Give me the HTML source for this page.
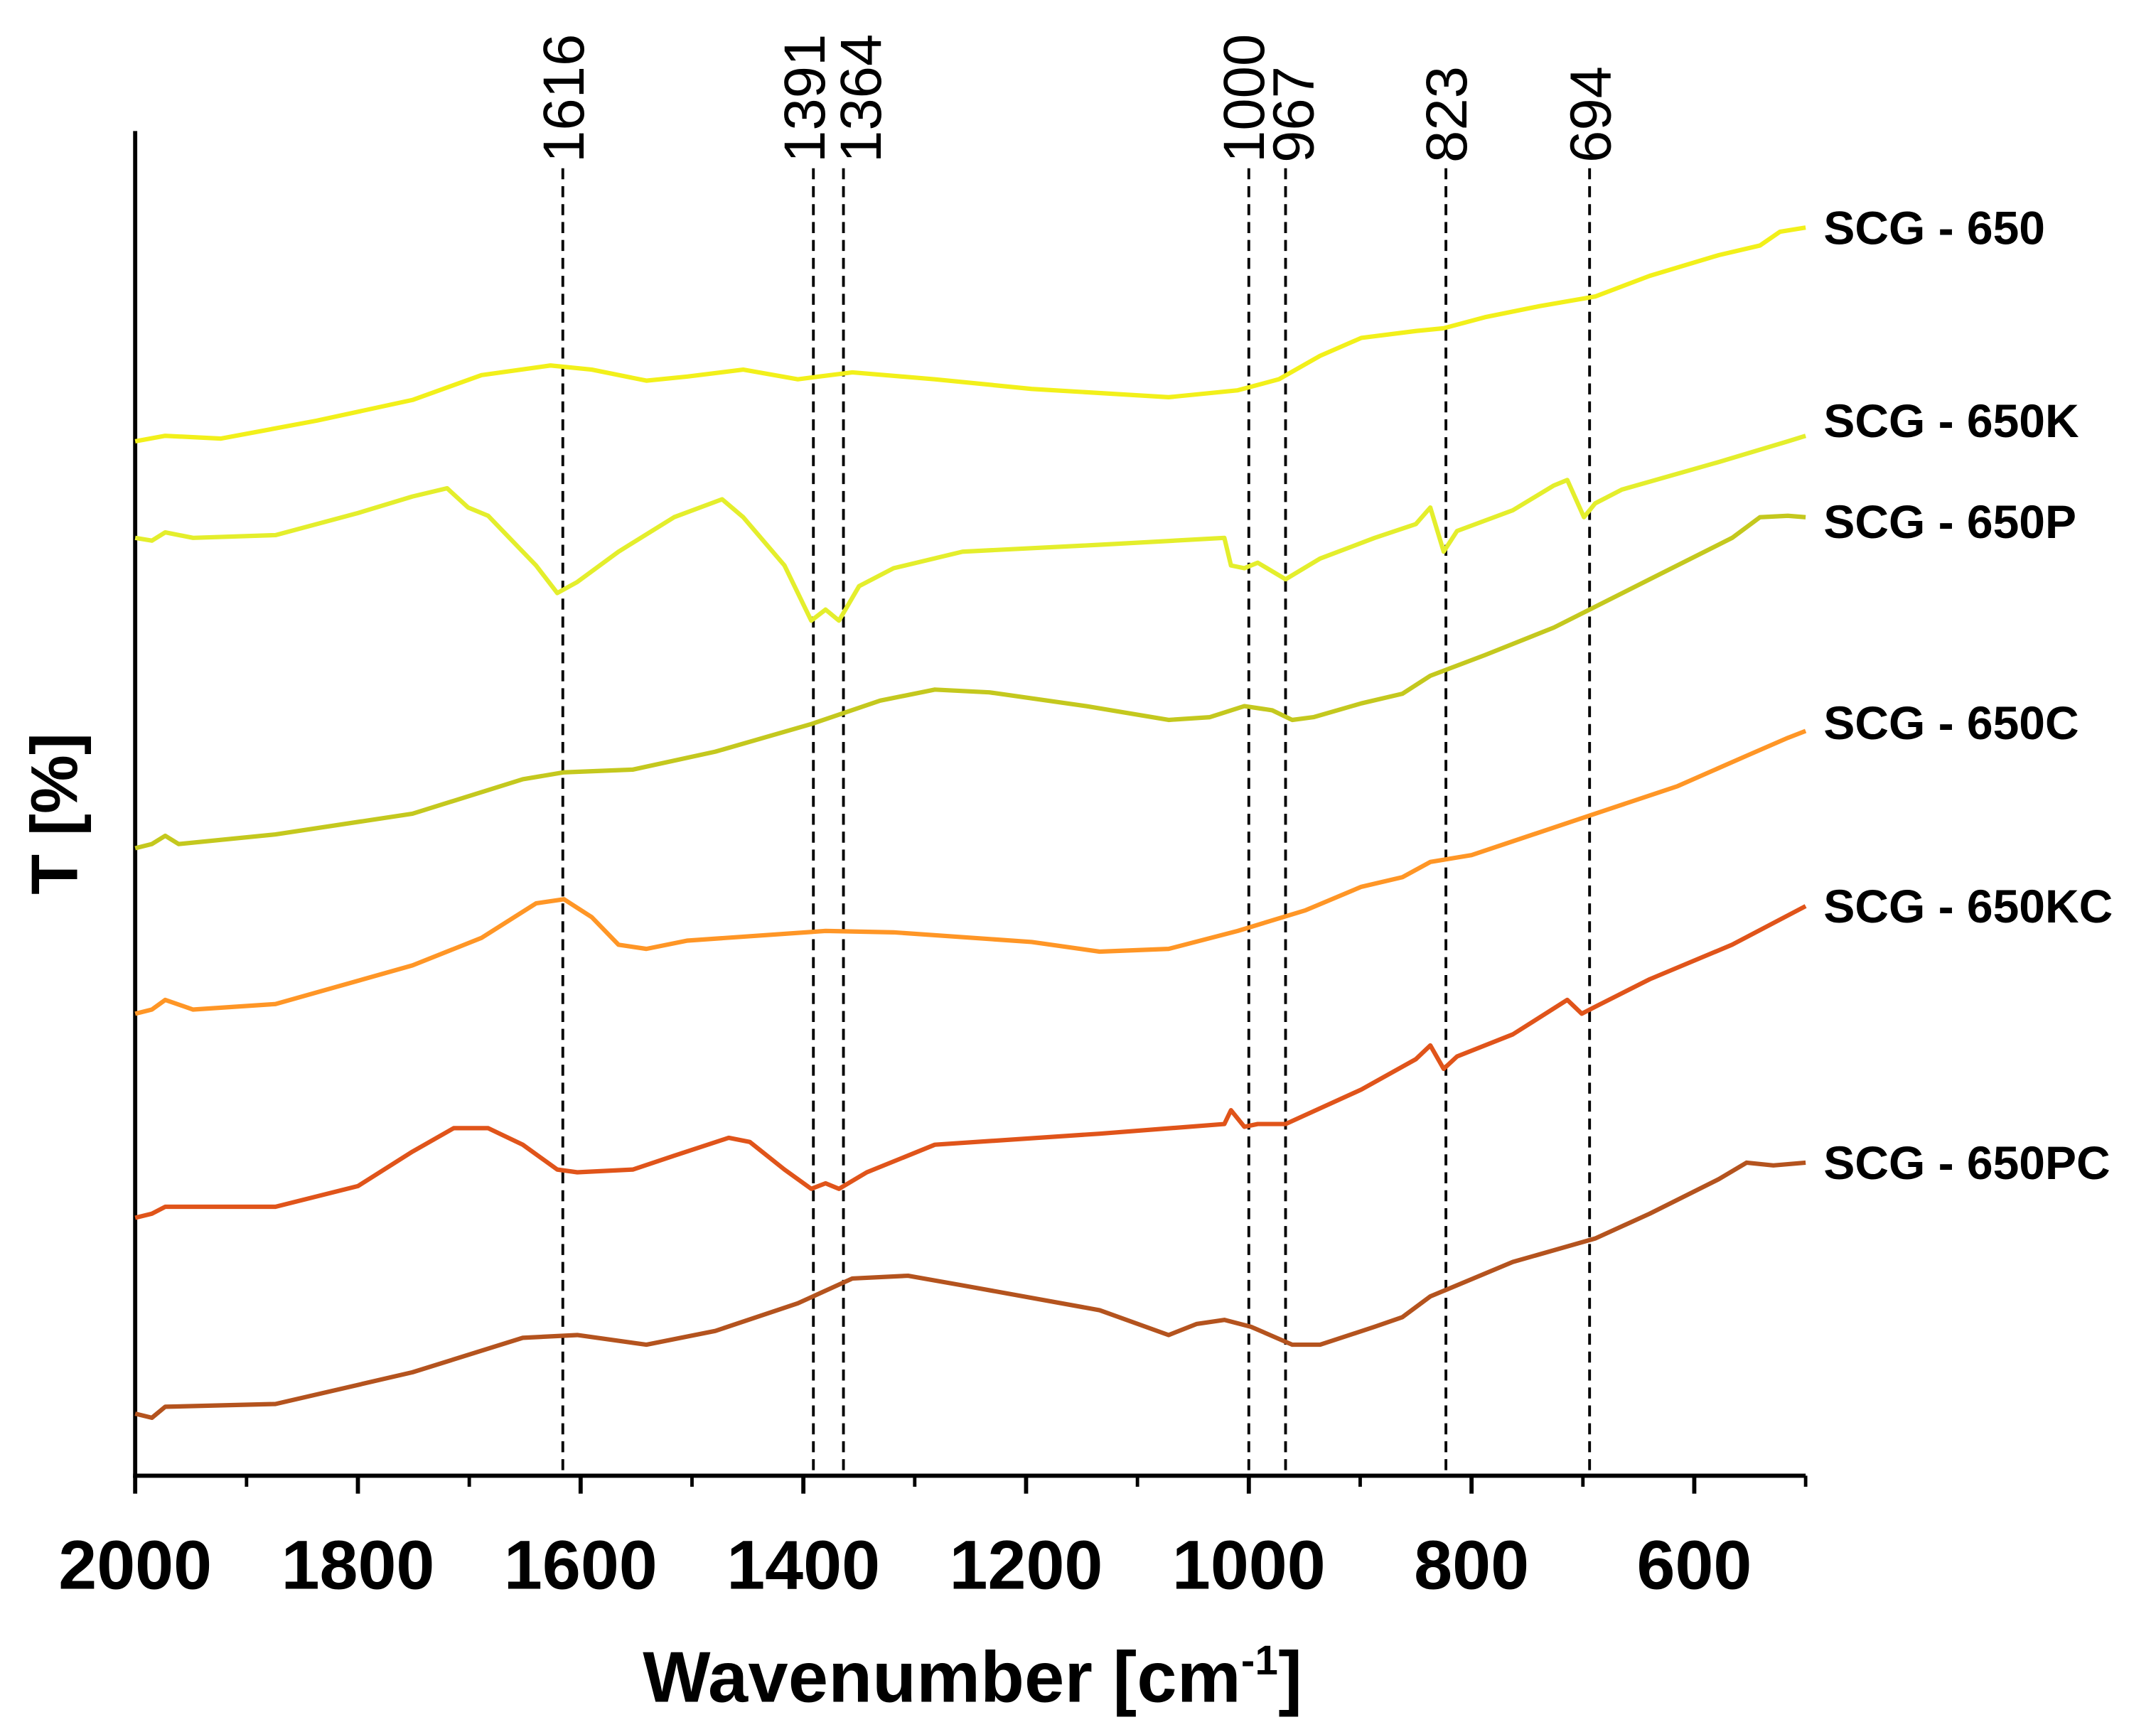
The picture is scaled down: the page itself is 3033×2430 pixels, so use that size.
<!DOCTYPE html>
<html><head><meta charset="utf-8"><style>
html,body{margin:0;padding:0;background:#fff;}
svg{display:block;}
text{font-family:"Liberation Sans",Arial,sans-serif;}
</style></head><body>
<svg id="chart" width="3033" height="2430" viewBox="0 0 1563 1252.2" preserveAspectRatio="none" xmlns="http://www.w3.org/2000/svg">
<g id="axes"></g>
<g id="peaks"></g>
<g id="series"></g>
<g id="labels"></g>
<text x="705" y="1234" text-anchor="middle" font-weight="bold" font-size="52" textLength="478">Wavenumber [cm<tspan font-size="30" dy="-20">-1</tspan><tspan dy="20">]</tspan></text>
<text transform="translate(56,590) rotate(-90)" text-anchor="middle" font-weight="bold" font-size="48">T [%]</text>
</svg>
<script>
const xTicks = [2000,1800,1600,1400,1200,1000,800,600];
const xMinor = [1900,1700,1500,1300,1100,900,700,500];
const peakPositions = [1616,1391,1364,1000,967,823,694];
const peakLabelShift = [0,-7,12,-4,5,0,0];
const seriesNames = ["SCG - 650","SCG - 650K","SCG - 650P","SCG - 650C","SCG - 650KC","SCG - 650PC"];
const seriesColors = ["#f2f01a","#e4ee2c","#c4c81e","#ff9626","#e0541a","#b4531e"];
const wn650 = [2000,1973,1923,1837,1751,1689,1627,1590,1541,1504,1454,1405,1356,1282,1195,1072,1010,973,936,899,850,825,788,739,689,640,578,541,523,500];
const t650 = [750,754,752,765,780,798,805,802,794,797,802,795,800,795,788,782,787,795,812,825,830,832,840,848,855,870,885,892,902,905];
const wn650K = [2000,1985,1973,1948,1874,1800,1751,1720,1701,1683,1664,1640,1621,1603,1566,1516,1473,1454,1417,1393,1380,1368,1350,1319,1257,1134,1022,1016,1004,992,967,936,887,850,837,825,813,763,726,714,699,689,665,578,516,500];
const t650K = [680,678,684,680,682,698,710,716,702,696,680,660,640,648,670,695,708,695,660,620,628,620,645,658,670,675,680,660,658,662,650,665,680,690,702,670,685,700,718,722,695,705,715,735,750,754];
const wn650P = [2000,1985,1973,1961,1874,1751,1652,1615,1553,1479,1393,1331,1282,1233,1146,1072,1035,1004,979,961,942,899,862,837,788,726,640,566,541,516,500];
const t650P = [455,458,464,458,465,480,505,510,512,525,545,562,570,568,558,548,550,558,555,548,550,560,567,580,595,615,650,680,695,696,695];
const wn650C = [2000,1985,1973,1948,1874,1751,1689,1640,1615,1590,1566,1541,1504,1380,1319,1195,1134,1072,1010,949,899,862,837,800,763,689,615,553,516,500];
const t650C = [335,338,345,338,342,370,390,415,418,405,385,382,388,395,394,387,380,382,395,410,427,434,445,450,460,480,500,522,535,540];
const wn650KC = [2000,1985,1973,1874,1800,1751,1714,1683,1652,1621,1603,1553,1516,1467,1448,1417,1393,1380,1368,1343,1282,1134,1022,1016,1004,992,967,899,850,837,825,813,763,714,701,689,640,566,500];
const t650KC = [187,190,195,195,210,235,252,252,240,222,220,222,232,245,242,222,208,212,208,220,240,248,255,265,253,255,255,280,302,312,295,304,320,345,335,340,360,385,413];
const wn650PC = [2000,1985,1973,1874,1751,1652,1603,1541,1479,1405,1356,1306,1257,1134,1072,1047,1022,998,961,936,887,862,837,763,689,640,578,553,529,500];
const t650PC = [45,42,50,52,75,100,102,95,105,125,143,145,138,120,102,110,113,108,95,95,108,115,130,155,172,190,215,227,225,227];
const labelValues = [905,765,692,546,413,227];

const NS = "http://www.w3.org/2000/svg";
const X0=98, X1=1309, Y0=1070, Y1=95;
function xs(w){return X0 + (2000-w)*(X1-X0)/1500;}
function ys(v){return Y0 - v;}
function mk(tag, attrs, parent){const e=document.createElementNS(NS,tag);for(const k in attrs)e.setAttribute(k,attrs[k]);parent.appendChild(e);return e;}

const axes=document.getElementById('axes');
let l=mk('line',{x1:X0,y1:Y1,x2:X0,y2:Y0+1.5,stroke:'#000','stroke-width':3},axes);


l=mk('line',{x1:X0-1.5,y1:Y0,x2:X1,y2:Y0,stroke:'#000','stroke-width':3},axes);


xTicks.forEach(w=>{
  const t=mk('line',{x1:xs(w),y1:Y0,x2:xs(w),y2:Y0+13,stroke:'#000','stroke-width':3},axes);
  
  
  const tx=mk('text',{x:xs(w),y:1152,'text-anchor':'middle','font-weight':'bold','font-size':50},axes);
  tx.textContent=w;
  
  
});
xMinor.forEach(w=>{
  const t=mk('line',{x1:xs(w),y1:Y0,x2:xs(w),y2:Y0+8,stroke:'#000','stroke-width':2.5},axes);
  
  
});

const peaks=document.getElementById('peaks');
peakPositions.forEach((p,i)=>{
  const x=xs(p);
  const d=mk('line',{x1:x,y1:122,x2:x,y2:1066,stroke:'#000','stroke-width':2,'stroke-dasharray':'8,5'},peaks);
  
  
  const t=mk('text',{transform:`translate(${x+peakLabelShift[i]+15},118) rotate(-90)`,'font-size':42},peaks);
  t.textContent=p;
  
  
});

const allWn=[wn650,wn650K,wn650P,wn650C,wn650KC,wn650PC];
const allT=[t650,t650K,t650P,t650C,t650KC,t650PC];
const series=document.getElementById('series');
allWn.forEach((wn,i)=>{
  const d=wn.map((w,j)=>(j?'L':'M')+xs(w).toFixed(1)+','+ys(allT[i][j]).toFixed(1)).join(' ');
  const p=mk('path',{d:d,fill:'none',stroke:seriesColors[i],'stroke-width':3.2,'stroke-linejoin':'round'},series);
  
  
});
const labels=document.getElementById('labels');
seriesNames.forEach((n,i)=>{
  const t=mk('text',{x:1322,y:ys(labelValues[i])+12,'font-weight':'bold','font-size':34},labels);
  t.textContent=n;
  
  
});
</script>
</body></html>
